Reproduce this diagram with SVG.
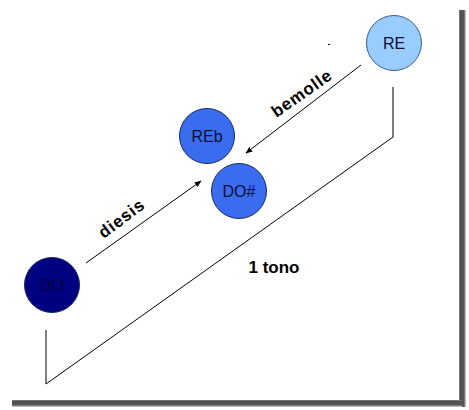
<svg xmlns="http://www.w3.org/2000/svg" width="469" height="410" viewBox="0 0 469 410">
<defs>
<marker id="ah" viewBox="0 0 10 10" refX="9" refY="5" markerWidth="7" markerHeight="7" orient="auto" markerUnits="userSpaceOnUse">
<path d="M0,1 L10,5 L0,9 Z" fill="#000"/>
</marker>
<linearGradient id="shR" x1="0" y1="0" x2="1" y2="0">
<stop offset="0" stop-color="#8a8a8a"/><stop offset="0.2" stop-color="#4f4f4f"/><stop offset="0.7" stop-color="#555"/><stop offset="1" stop-color="#ddd"/>
</linearGradient>
<linearGradient id="shB" x1="0" y1="0" x2="0" y2="1">
<stop offset="0" stop-color="#8a8a8a"/><stop offset="0.2" stop-color="#4f4f4f"/><stop offset="0.7" stop-color="#555"/><stop offset="1" stop-color="#ddd"/>
</linearGradient>
</defs>
<style>
.node circle{stroke:#1a2a60;stroke-width:1}
.lbl{font-family:"Liberation Sans",Arial,sans-serif;font-size:16px;fill:#0a1030;text-anchor:middle}
.edge{stroke:#000;stroke-width:1;fill:none}
.et{font-family:"Liberation Sans",Arial,sans-serif;font-size:17px;font-weight:bold;fill:#000;text-anchor:middle}
</style>
<rect width="469" height="410" fill="#fff"/>
<g id="shadow">
<rect x="459" y="10" width="7" height="397" fill="url(#shR)"/>
<rect x="12" y="400" width="450" height="7" fill="url(#shB)"/>
</g>
<g id="connectors">
<path class="edge" d="M86,263 L201,181" marker-end="url(#ah)"/>
<path class="edge" d="M361,65 L246,153" marker-end="url(#ah)"/>
<path class="edge" d="M393,87 L393,137 L46,384 L46,330"/>
<text class="et" transform="translate(125,223) rotate(-37)" letter-spacing="0.8">diesis</text>
<text class="et" transform="translate(305,98) rotate(-35)" letter-spacing="0.8">bemolle</text>
<text class="et" x="274" y="273">1 tono</text>
<rect x="328" y="44" width="2" height="1" fill="#000"/>
</g>
<g id="RE" class="node">
<circle cx="394" cy="43" r="27.5" fill="#99ccff" style="stroke:#3a5a90"/>
<text class="lbl" x="394" y="49">RE</text>
</g>
<g id="REb" class="node">
<circle cx="207" cy="136" r="27.5" fill="#3a6cf0"/>
<text class="lbl" x="207" y="142">REb</text>
</g>
<g id="DOs" class="node">
<circle cx="239" cy="191" r="27.5" fill="#3a6cf0"/>
<text class="lbl" x="239" y="197">DO#</text>
</g>
<g id="DO" class="node">
<circle cx="52" cy="285" r="27.5" fill="#000080"/>
<text class="lbl" x="52" y="291" style="fill:#000040">DO</text>
</g>
</svg>
